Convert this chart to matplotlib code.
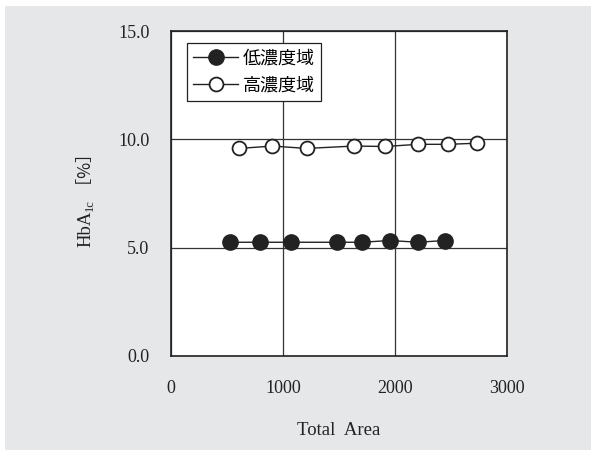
import matplotlib
matplotlib.use("Agg")
import matplotlib.pyplot as plt
from matplotlib.patches import Rectangle

low_x = [527, 795, 1071, 1482, 1705, 1955, 2205, 2446]
low_y = [5.25, 5.25, 5.25, 5.25, 5.25, 5.33, 5.25, 5.33]
high_x = [610, 904, 1211, 1634, 1913, 2208, 2476, 2729]
high_y = [9.58, 9.69, 9.58, 9.69, 9.67, 9.77, 9.77, 9.82]
xticks = [0, 1000, 2000, 3000]
yticks = [0.0, 5.0, 10.0, 15.0]
labels = ["低濃度域", "高濃度域"]
xlabel = "Total  Area"
ylabel_parts = ["HbA", "1c", " ［%］"]

plt.rcParams['font.family'] = ['Liberation Serif', 'DejaVu Serif']

W, H = 591, 450
fig = plt.figure(figsize=(W / 100, H / 100), dpi=100, facecolor='white')
fig.patches.append(Rectangle((5 / W, 0), 1, 1 - 6 / H, transform=fig.transFigure,
                             facecolor='#e6e7e9', edgecolor='none', zorder=-10))
ax = fig.add_axes([171 / W, 1 - 356 / H, 336 / W, 325 / H])
ax.set_facecolor('white')

ax.plot(low_x, low_y, '-', color='#222222', lw=1.0, marker='o', ms=11,
        mfc='#222222', mec='#222222', label=labels[0])
ax.plot(high_x, high_y, '-', color='#222222', lw=1.0, marker='o', ms=10,
        mfc='white', mec='#222222', mew=1.3, label=labels[1])

ax.set_xlim(0, 3000)
ax.set_ylim(0, 15)
ax.set_xticks(xticks)
ax.set_yticks(yticks)
ax.set_yticklabels([f"{v:.1f}" for v in yticks])
ax.tick_params(length=0, labelsize=13, colors='#222222')
ax.tick_params(axis='y', pad=15.5)
ax.tick_params(axis='x', pad=17)
ax.grid(True, color='#333333', lw=0.9)
ax.set_axisbelow(True)
for s in ax.spines.values():
    s.set_color('#222222')
    s.set_linewidth(1.2)

ax.set_xlabel(xlabel, fontsize=13.5, labelpad=18, color='#222222')

leg = ax.legend(loc='upper left', bbox_to_anchor=(16 / 336, 1 - 12 / 325), frameon=True,
                fancybox=False, edgecolor='#222222', facecolor='white', framealpha=1,
                prop={'family': ['Noto Sans CJK JP'], 'size': 13}, handlelength=2.5,
                borderpad=0.35, labelspacing=0.5, handletextpad=0.25, borderaxespad=0)
leg.get_frame().set_linewidth(0.9)

# y label composed of pieces (rotated), centred on the axes
fig.canvas.draw()
renderer = fig.canvas.get_renderer()
styles = [
    dict(fontsize=13.5, family=['Liberation Serif'], dx=0),
    dict(fontsize=9, family=['Liberation Serif'], dx=4),
    dict(fontsize=12.5, family=['Noto Sans CJK JP'], dx=0),
]
texts = []
for part, st in zip(ylabel_parts, styles):
    t = fig.text(0, 0, part, rotation=90, ha='center', va='bottom',
                 fontsize=st['fontsize'], family=st['family'], color='#222222',
                 transform=None)
    texts.append(t)
lengths = [t.get_window_extent(renderer).height for t in texts]
total = sum(lengths)
xc = 86
ycenter = H - 196
y = ycenter - total / 2
for t, L, st in zip(texts, lengths, styles):
    t.set_position((xc + st['dx'], y))
    y += L

fig.savefig("out.png", dpi=100, facecolor=fig.get_facecolor())
